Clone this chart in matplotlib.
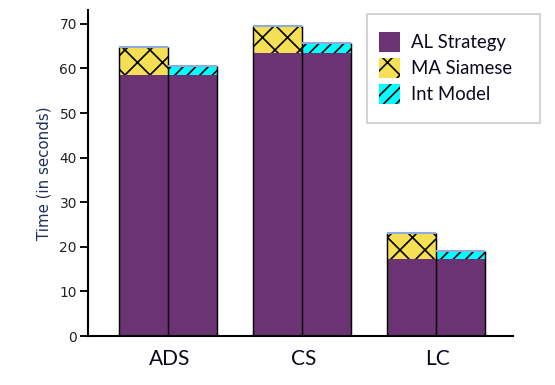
import matplotlib
matplotlib.use("Agg")
import matplotlib.pyplot as plt
from matplotlib.patches import Rectangle
import numpy as np

categories = ["ADS", "CS", "LC"]
al_strategy = [58.6, 63.4, 17.2]
ma_siamese = [6.1, 6.1, 6.0]      # stacked on AL Strategy (left bar)
int_model = [2.0, 2.4, 1.9]       # stacked on AL Strategy (right bar)
yticks = [0, 10, 20, 30, 40, 50, 60, 70]

plt.rcParams['hatch.linewidth'] = 0.8

purple = "#6B3374"
yellow = "#F4DF55"
cyan = "#00FFFF"

W, H = 555, 385
fig = plt.figure(figsize=(W/150, H/150), dpi=150)
ax = fig.add_axes([88/W, 49/H, (513-88)/W, (336-10)/H])

x = np.arange(len(categories))
w = 0.366
xl = x - w/2
xr = x + w/2

ax.bar(xl, al_strategy, w, color=purple, linewidth=0, label="AL Strategy")
ax.bar(xl, ma_siamese, w, bottom=al_strategy, color=yellow, edgecolor="black",
       linewidth=0, hatch="xx", label="MA Siamese")
ax.bar(xr, al_strategy, w, color=purple, linewidth=0)
ax.bar(xr, int_model, w, bottom=al_strategy, color=cyan, edgecolor="black",
       linewidth=0, hatch="////", label="Int Model")

top_l = np.array(al_strategy) + np.array(ma_siamese)
top_r = np.array(al_strategy) + np.array(int_model)
# vertical edges
ax.vlines(xl - w/2, 0, top_l, color="black", lw=0.7, zorder=3)
ax.vlines(xl + w/2, 0, np.maximum(top_l, top_r), color="black", lw=0.7, zorder=3)
ax.vlines(xr + w/2, 0, top_r, color="black", lw=0.7, zorder=3)
# light blue top edges
ax.hlines(top_l, xl - w/2, xl + w/2, color="#8FAADC", lw=1.0, zorder=3)
ax.hlines(top_r, xr - w/2, xr + w/2, color="#8FAADC", lw=1.0, zorder=3)

ax.set_xlim(-0.597, 2.575)
ax.set_ylim(0, 73.1)
ax.set_yticks(yticks)
ax.set_xticks(x + 0.015)
ax.set_xticklabels(categories, fontfamily="Lato", fontsize=10.0, color="#0A0A1E")
ax.tick_params(axis='x', length=0, pad=6)
ax.tick_params(axis='y', length=3.8, width=0.9, labelsize=6.6, pad=1.5, labelcolor="#222222")
for s in ["top", "right"]:
    ax.spines[s].set_visible(False)
ax.spines["left"].set_linewidth(1.0)
ax.spines["bottom"].set_linewidth(1.0)

ax.set_ylabel("Time (in seconds)", fontsize=7.2, color="#1F2F5C", labelpad=4)

# legend frame (box drawn separately for asymmetric padding)
fig.add_artist(Rectangle((367/W, 1 - 123/H), (540-367)/W, (123-14)/H,
                         transform=fig.transFigure, facecolor="white",
                         edgecolor="#CCCCCC", linewidth=0.8, zorder=4))
handles, labels = ax.get_legend_handles_labels()
leg = fig.legend(handles, labels, loc="upper left", bbox_to_anchor=(379/W, 1 - 32/H),
                 bbox_transform=fig.transFigure,
                 prop={"family": "Lato", "size": 8.9}, frameon=False,
                 handlelength=1.15, handleheight=1.3,
                 borderpad=0, labelspacing=0.3, handletextpad=0.6, borderaxespad=0)
leg.set_zorder(5)
for t in leg.get_texts():
    t.set_color("#0A0A1E")

fig.savefig("out.png", dpi=150)
